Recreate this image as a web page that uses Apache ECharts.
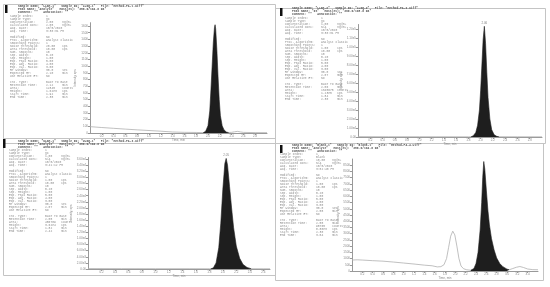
<!DOCTYPE html>
<html><head><meta charset="utf-8">
<script src="https://cdn.jsdelivr.net/npm/echarts@6/dist/echarts.min.js"></script>
<style>html,body{margin:0;padding:0;background:#fff}#c{width:550px;height:287px}</style>
</head><body><div id="c"></div>
<script>
// ---------- Panel 1 (top-left) ----------
const p1BaseTime = [0,0.2,0.4,0.6,0.8,1.0,1.2,1.4,1.6,1.8,1.9,2.0,2.2,2.3,2.4,2.45,2.5,2.55,2.6,2.8,3.0];
const p1BaseVal  = [95,82,70,58,47,37,27,15,10,8,6,5,5,6,10,18,24,16,9,6,5];
const p1PeakTime = [1.92,1.96,2.00,2.03,2.05,2.07,2.09,2.11,2.12,2.13,2.15,2.17,2.19,2.21,2.24,2.27,2.31,2.35];
const p1PeakVal  = [5,25,110,330,650,1000,1350,1580,1620,1560,1250,850,500,260,110,50,15,5];
// ---------- Panel 2 (top-right) ----------
const p2BaseTime = [0,0.5,1.0,1.5,1.8,2.3,2.6,3.0];
const p2BaseVal  = [400,300,300,250,200,300,250,200];
const p2PeakTime = [1.84,1.88,1.92,1.95,1.98,2.00,2.02,2.04,2.06,2.08,2.10,2.12,2.15,2.18,2.22,2.26,2.30];
const p2PeakVal  = [0,1500,5000,13000,30000,52000,80000,108000,123000,104000,72000,44000,20000,8000,2500,800,0];
// ---------- Panel 3 (bottom-left) ----------
const p3BaseTime = [0,0.5,1.0,1.5,1.8,2.42,2.6,2.7];
const p3BaseVal  = [150,120,100,100,80,100,80,80];
const p3PeakTime = [1.82,1.86,1.90,1.94,1.97,2.00,2.03,2.05,2.07,2.10,2.13,2.16,2.20,2.25,2.30,2.36,2.42];
const p3PeakVal  = [0,400,2000,7000,15000,26000,34500,36200,34000,27000,20000,13500,7500,3500,1500,500,100];
// ---------- Panel 4 (bottom-right) ----------
const p4BaseTime = [0,0.1,0.2,0.4,0.6,0.8,1.0,1.2,1.4,1.55,1.65,1.72,1.78,1.83,1.87,1.91,1.95,1.99,2.03,2.07,2.11,2.16,2.22,2.30,2.6,2.9,3.04,3.10,3.18,3.25,3.32,3.40,3.50,3.60];
const p4BaseVal  = [880,900,880,830,790,720,640,560,470,420,330,350,500,1000,1900,2800,3200,2900,2000,1000,400,180,100,60,60,80,100,180,300,360,280,160,110,100];
const p4PeakTime = [2.30,2.36,2.40,2.44,2.48,2.51,2.53,2.55,2.57,2.60,2.63,2.66,2.70,2.75,2.80,2.86,2.92,3.00,3.04];
const p4PeakVal  = [60,200,600,1500,3300,5500,7500,8800,8200,6500,4900,3700,2600,1700,1050,600,350,150,100];

// ---------- Report text ----------
const headers = [
 ["Sample Name: \"LLOQ-1\"   Sample ID: \"LLOQ-1\"   File: \"Method-PA-1.wiff\"","Peak Name: \"Analyte\"   Mass(es): \"386.0/194.0 Da\"","Comment: \"\"   Annotation: \"\""],
 ["Sample Name: \"LLOQ-2\"   Sample ID: \"LLOQ-2\"   File: \"Method-PA-2.wiff\"","Peak Name: \"IS\"   Mass(es): \"390.0/198.0 Da\"","Comment: \"\"   Annotation: \"\""],
 ["Sample Name: \"ULOQ-1\"   Sample ID: \"ULOQ-1\"   File: \"Method-PA-3.wiff\"","Peak Name: \"Analyte\"   Mass(es): \"386.0/194.0 Da\"","Comment: \"\"   Annotation: \"\""],
 ["Sample Name: \"Blank-1\"   Sample ID: \"Blank-1\"   File: \"Method-PA-4.wiff\"","Peak Name: \"Analyte\"   Mass(es): \"386.0/194.0 Da\"","Comment: \"\"   Annotation: \"\""]
];
const infoLabels = ["Sample Index:","Sample Type:","Concentration:","Calculated Conc:","Acq. Date:","Acq. Time:","","Modified:","Proc. Algorithm:","Smoothing Points:","Noise Threshold:","Area Threshold:","Num. Smooths:","Sep. Width:","Sep. Height:","Exp. Peak Ratio:","Exp. Adj. Ratio:","Exp. Val. Ratio:","RT Window:","Expected RT:","Use Relative RT:","","Int. Type:","Retention Time:","Area:","Height:","Start Time:","End Time:"];
const infoUnits  = ["","","ng/mL","ng/mL","","","","","","","cps","cps","","","","","","","sec","min","","","","min","counts","cps","min","min"];
const p1Info = ["1","QC","2.00","2.05","10/5/2020","3:30:31 PM","","No","Analyst Classic","1","20.00","10.00","10","0.20","1.00","5.00","4.00","3.00","30.0","2.10","No","","Base To Base","2.12","12345","1.62e3","1.92","2.35"];
const p2Info = ["1","QC","1.00","N/A","10/5/2020","3:30:31 PM","","No","Analyst Classic","1","1.00","10.00","10","0.20","1.00","5.00","4.00","3.00","30.0","2.07","No","","Base To Base","2.06","1345678","1.23e5","1.84","2.30"];
const p3Info = ["1","QC","1.00","N/A","10/5/2020","3:41:12 PM","","No","Analyst Classic","1","1.00","10.00","10","0.20","1.00","5.00","4.00","3.00","30.0","2.07","No","","Base To Base","2.05","456789","3.62e4","1.82","2.42"];
const p4Info = ["1","Blank","10.00","N/A","10/5/2020","3:52:40 PM","","No","Analyst Classic","1","1.00","10.00","10","0.20","1.00","5.00","4.00","3.00","30.0","2.55","No","","Base To Base","2.55","98765","8.80e3","2.30","3.04"];

function padR(s,n){s=String(s);while(s.length<n)s+=' ';return s;}
function bodyText(vals){
  return infoLabels.map((l,i)=> l==="" ? " " : (padR(l,20)+padR(vals[i],9)+infoUnits[i]).replace(/\s+$/,'')).join('\n');
}
function zip(t,v){return t.map((x,i)=>[x,v[i]]);}
function peakOf(t,v){let k=0;v.forEach((y,i)=>{if(y>v[k])k=i;});return [t[k],v[k]];}

const AX='#999', LAB='#888';
function xAx(gi,max){
  return {type:'value',gridIndex:gi,min:0,max:max,interval:0.2,name:'Time, min',nameLocation:'middle',nameGap:6,
    nameTextStyle:{fontSize:3,color:LAB,fontFamily:'Liberation Sans'},
    axisLine:{lineStyle:{color:AX,width:1}},axisTick:{length:2,lineStyle:{color:AX}},
    axisLabel:{fontSize:3,color:LAB,margin:2,showMinLabel:false,showMaxLabel:false,fontFamily:'Liberation Sans',formatter:v=>v.toFixed(1)},
    splitLine:{show:false}};
}
function yAx(gi,max,interval,gap,fmt){
  return {type:'value',gridIndex:gi,min:0,max:max,interval:interval,name:'Intensity, cps',nameLocation:'middle',nameGap:gap,nameRotate:90,
    nameTextStyle:{fontSize:3,color:LAB,fontFamily:'Liberation Sans'},
    axisLine:{show:true,lineStyle:{color:AX,width:1}},axisTick:{show:true,length:2,lineStyle:{color:AX}},
    axisLabel:{fontSize:3,color:LAB,margin:2,showMaxLabel:false,fontFamily:'Liberation Sans',formatter:fmt},
    splitLine:{show:false}};
}
const fInt = v=>String(Math.round(v));
const fExp = v=> v===0 ? '0.00' : v.toExponential(2).replace('e+','e');

function baseSeries(i,t,v){return {type:'line',xAxisIndex:i,yAxisIndex:i,data:zip(t,v),symbol:'none',silent:true,lineStyle:{color:'#b0b0b0',width:0.8},z:2};}
function peakSeries(i,t,v){return {type:'line',xAxisIndex:i,yAxisIndex:i,data:zip(t,v),symbol:'none',silent:true,lineStyle:{color:'#1e1e1e',width:0.6},areaStyle:{color:'#1e1e1e',opacity:1},z:3};}
function labelSeries(i,t,v){return {type:'scatter',xAxisIndex:i,yAxisIndex:i,data:[peakOf(t,v)],symbolSize:1,itemStyle:{color:'rgba(0,0,0,0)'},silent:true,
  label:{show:true,position:'top',distance:1,fontSize:3,color:'#666',fontFamily:'Liberation Sans',formatter:p=>p.value[0].toFixed(2)},z:4};}

const panels = [
  {box:[3,4,272,139], blk:[5,5,2.5,8], hx:18, hy:5.2, bx:10, by:14.5, info:p1Info},
  {box:[275,8,270,135], blk:[280,8,2.5,8], hx:292, hy:6.8, bx:285, by:16.8, info:p2Info},
  {box:[3,138,272,137], blk:[3,139,2.5,9], hx:18, hy:139.5, bx:9, by:148.8, info:p3Info},
  {box:[275,143,268,137], blk:[280,145,2.5,8], hx:292, hy:144.2, bx:280, by:152.5, info:p4Info}
];
const graphic = [];
panels.forEach((p,i)=>{
  graphic.push({type:'rect',silent:true,shape:{x:p.box[0]+0.5,y:p.box[1]+0.5,width:p.box[2],height:p.box[3]},style:{fill:'none',stroke:'#c4c4c4',lineWidth:1}});
  graphic.push({type:'rect',silent:true,shape:{x:p.blk[0],y:p.blk[1],width:p.blk[2],height:p.blk[3]},style:{fill:'#111'}});
  graphic.push({type:'text',silent:true,x:p.hx,y:p.hy,style:{text:headers[i].join('\n'),fontSize:3,lineHeight:3,fontFamily:'Liberation Mono',fontWeight:'bold',fill:'#555',verticalAlign:'top'}});
  graphic.push({type:'text',silent:true,x:p.bx,y:p.by,style:{text:bodyText(p.info),fontSize:3,lineHeight:3,fontFamily:'Liberation Mono',fill:'#8a8a8a',verticalAlign:'top'}});
});

const option = {
  animation:false,
  backgroundColor:'#fff',
  grid:[
    {left:90,top:22.7,width:177,height:110.3},
    {left:358,top:24.5,width:184,height:112.5},
    {left:88,top:157.5,width:182,height:111.5},
    {left:352,top:159,width:186,height:112}
  ],
  xAxis:[xAx(0,3.0),xAx(1,3.0),xAx(2,2.7),xAx(3,3.6)],
  yAxis:[yAx(0,1650,100,13,fInt),yAx(1,125000,10000,15,fExp),yAx(2,36500,2000,14,fExp),yAx(3,9000,500,10,fInt)],
  series:[
    baseSeries(0,p1BaseTime,p1BaseVal), peakSeries(0,p1PeakTime,p1PeakVal),
    baseSeries(1,p2BaseTime,p2BaseVal), peakSeries(1,p2PeakTime,p2PeakVal), labelSeries(1,p2PeakTime,p2PeakVal),
    baseSeries(2,p3BaseTime,p3BaseVal), peakSeries(2,p3PeakTime,p3PeakVal), labelSeries(2,p3PeakTime,p3PeakVal),
    baseSeries(3,p4BaseTime,p4BaseVal), peakSeries(3,p4PeakTime,p4PeakVal)
  ],
  graphic:graphic
};
const chart = echarts.init(document.getElementById('c'),null,{renderer:'canvas'});
chart.setOption(option);
</script></body></html>
